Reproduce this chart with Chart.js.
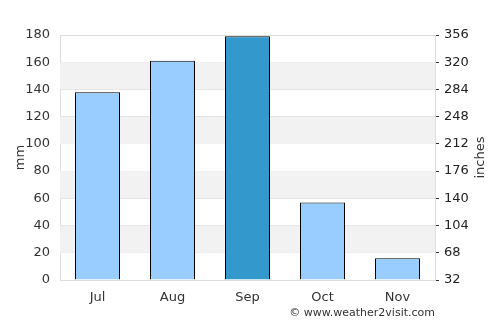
<!DOCTYPE html>
<html>
<head>
<meta charset="utf-8">
<script src="https://cdn.jsdelivr.net/npm/chart.js@4/dist/chart.umd.min.js"></script>
<style>
  html, body { margin: 0; padding: 0; background: #fff; }
  #wrap { width: 500px; height: 325px; position: relative; }
</style>
</head>
<body>
<div id="wrap"><canvas id="chartdiv"></canvas></div>
<script>
// data
var months = ['Jul', 'Aug', 'Sep', 'Oct', 'Nov'];
var rainMm = [138, 161, 179, 57, 16];
var barColors = ['#99ccff', '#99ccff', '#3399cc', '#99ccff', '#99ccff'];
var rightMin = 32, rightMax = 356;

Chart.defaults.font.family = 'DejaVu Sans';
Chart.defaults.font.size = 13;
Chart.defaults.color = '#333';

// grey bands, axis titles and credit line
var extras = {
  id: 'extras',
  beforeDatasetsDraw: function (chart) {
    var ctx = chart.ctx, y = chart.scales.y, area = chart.chartArea;
    ctx.save();
    ctx.fillStyle = '#f2f2f2';
    for (var v = 20; v < 180; v += 40) {
      var top = y.getPixelForValue(v + 20), bot = y.getPixelForValue(v);
      ctx.fillRect(area.left, top, area.right - area.left, bot - top);
    }
    ctx.restore();
  },
  afterDraw: function (chart) {
    var ctx = chart.ctx, area = chart.chartArea;
    var mid = (area.top + area.bottom) / 2;
    ctx.save();
    ctx.fillStyle = '#333';
    ctx.textAlign = 'center';
    ctx.textBaseline = 'middle';
    ctx.font = '13px DejaVu Sans';
    [[21, 'mm'], [481, 'inches']].forEach(function (t) {
      ctx.save();
      ctx.translate(t[0], mid);
      ctx.rotate(-Math.PI / 2);
      ctx.fillText(t[1], 0, 0);
      ctx.restore();
    });
    ctx.font = '11px DejaVu Sans';
    ctx.textAlign = 'right';
    ctx.fillText('\u00a9 www.weather2visit.com', 435, 313);
    ctx.restore();
  }
};

var myChart = new Chart(document.querySelector('#chartdiv'), {
  type: 'bar',
  data: {
    labels: months,
    datasets: [{
      data: rainMm,
      backgroundColor: barColors,
      borderColor: '#000',
      borderWidth: 1,
      barPercentage: 0.6,
      categoryPercentage: 1
    }]
  },
  options: {
    responsive: true,
    maintainAspectRatio: false,
    animation: false,
    layout: { padding: { top: 35, left: 0, right: 0, bottom: 0 } },
    plugins: { legend: { display: false }, tooltip: { enabled: false } },
    scales: {
      x: {
        grid: { display: false, drawTicks: false },
        border: { color: '#ddd' },
        ticks: { padding: 10 },
        afterFit: function (s) { s.height = 45; }
      },
      y: {
        position: 'left',
        min: 0, max: 180,
        ticks: { stepSize: 20, padding: 10 },
        grid: { color: '#ddd', drawTicks: false },
        border: { color: '#ddd' },
        afterFit: function (s) { s.width = 60; }
      },
      y2: {
        position: 'right',
        min: rightMin, max: rightMax,
        afterBuildTicks: function (s) {
          var t = [];
          for (var v = rightMin; v <= rightMax; v += 18) t.push({ value: v });
          s.ticks = t;
        },
        ticks: {
          padding: 5,
          color: '#222',
          callback: function (v) { return (v - rightMin) % 36 === 0 ? v : ''; }
        },
        grid: { drawOnChartArea: false, tickLength: 4, color: '#333' },
        border: { color: '#ddd' },
        afterFit: function (s) { s.width = 65; }
      }
    }
  },
  plugins: [extras]
});
</script>
</body>
</html>
